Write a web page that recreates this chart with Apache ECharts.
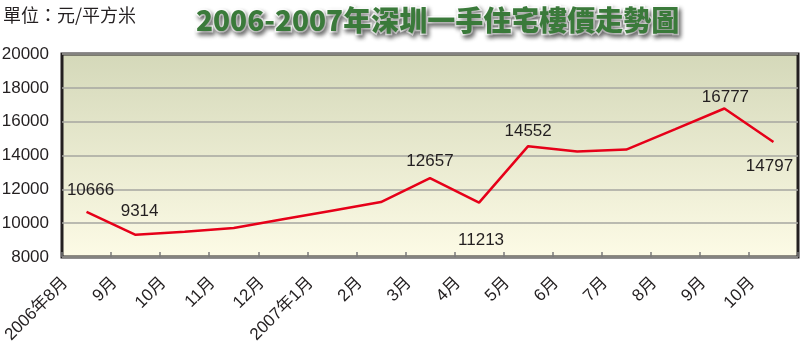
<!DOCTYPE html>
<html>
<head>
<meta charset="utf-8">
<script src="https://cdn.jsdelivr.net/npm/echarts@6/dist/echarts.min.js"></script>
<style>
html,body{margin:0;padding:0;background:#fff;}
#chart{width:800px;height:351px;}
</style>
</head>
<body>
<div id="chart"></div>
<script>
var titleText = '2006-2007年深圳一手住宅樓價走勢圖';
var unitText = '單位：元/平方米';
var categories = ['2006年8月','9月','10月','11月','12月','2007年1月','2月','3月','4月','5月','6月','7月','8月','9月','10月'];
var prices = [10666, 9314, 9490, 9720, 10230, 10740, 11250, 12657, 11213, 14552, 14230, 14350, 15560, 16777, 14797];
var labelIdx = [0, 1, 7, 8, 9, 13, 14];
var labelOffsets = {0:[4,-22], 1:[4,-23], 7:[0,-17], 8:[2,38], 9:[0,-15], 13:[1,-11], 14:[-4,24]};
var yMin = 8000, yMax = 20000, yStep = 2000;

var chart = echarts.init(document.getElementById('chart'), null, {renderer:'canvas'});
var seriesData = prices.map(function(v, i){
  var item = {value: v};
  if (labelIdx.indexOf(i) >= 0) {
    item.label = {show: true, position: 'inside', align: 'center', verticalAlign: 'middle', offset: labelOffsets[i]};
  }
  return item;
});
var numFont = '"Liberation Sans", Arial, sans-serif';
var cjkFont = '"Liberation Sans", "Noto Sans CJK TC", sans-serif';
chart.setOption({
  animation: false,
  title: {
    text: titleText,
    left: 191, top: 1,
    textStyle: {
      fontSize: 28, fontWeight: 900, color: '#3a7a3a',
      fontFamily: '"Noto Sans CJK TC", sans-serif',
      textBorderColor: '#ffffff', textBorderWidth: 3,
      textShadowColor: 'rgba(0,0,0,0.45)', textShadowBlur: 4,
      textShadowOffsetX: 2, textShadowOffsetY: 3
    }
  },
  graphic: [{
    type: 'text', left: 3, top: 6,
    style: {text: unitText, fontSize: 18, fill: '#231f20', fontFamily: '"Noto Sans CJK TC", sans-serif'}
  }],
  grid: {
    left: 62, top: 54, width: 736, height: 203, show: true,
    containLabel: false, outerBoundsMode: 'none',
    borderColor: '#231f20', borderWidth: 3,
    backgroundColor: new echarts.graphic.LinearGradient(0, 0, 0, 1, [
      {offset: 0, color: '#d4d8b9'},
      {offset: 1, color: '#fdfbe6'}
    ])
  },
  xAxis: {
    type: 'category', data: categories, boundaryGap: true,
    axisLine: {show: false},
    axisTick: {show: true, inside: true, length: 5, lineStyle: {color: '#7a7a7a', width: 1.5}},
    axisLabel: {
      rotate: 45, fontSize: 17, color: '#231f20', fontFamily: cjkFont,
      margin: 2, padding: [0, 30, 0, 0], interval: 0
    },
    splitLine: {show: false}
  },
  yAxis: {
    type: 'value', min: yMin, max: yMax, interval: yStep,
    axisLine: {show: false}, axisTick: {show: false},
    axisLabel: {fontSize: 17, color: '#231f20', fontFamily: numFont, margin: 13,
      formatter: function(v){ return String(v); }},
    splitLine: {show: true, lineStyle: {color: '#a6a6a0', width: 1.5}}
  },
  series: [{
    type: 'line', data: seriesData,
    symbol: 'circle', symbolSize: 0.1, showSymbol: true,
    itemStyle: {color: '#e60019'},
    lineStyle: {color: '#e60019', width: 2.5},
    label: {show: false, fontSize: 17, color: '#231f20', fontFamily: numFont},
    z: 5
  }]
});
</script>
</body>
</html>
